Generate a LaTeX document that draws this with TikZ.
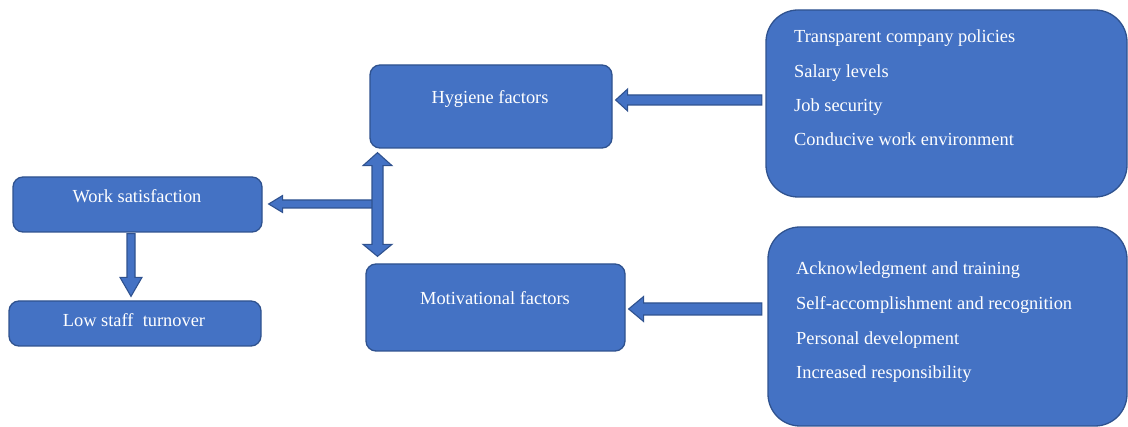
\documentclass[tikz,border=0pt]{standalone}
\usepackage{fontspec}
\setmainfont{Liberation Serif}
\usetikzlibrary{calc}
\definecolor{boxfill}{HTML}{4472C4}
\definecolor{boxline}{HTML}{2F528F}
\begin{document}
\begin{tikzpicture}[x=1pt,y=-1pt,
 box/.style={draw=boxline, fill=boxfill, line width=1.3pt, rounded corners=10pt, inner sep=0pt},
 bigbox/.style={box, rounded corners=32pt},
 lbl/.style={text=white, font=\fontsize{18.4}{22}\selectfont, anchor=base, inner sep=0pt},
 item/.style={lbl, anchor=base west},
 barrow/.style={draw=boxline, fill=boxfill, line width=1.1pt, line join=miter}]
\useasboundingbox (0,0) rectangle (1128,427);
% boxes
\node[box, minimum width=249pt, minimum height=55pt] (ws) at (137.5,204.5) {};
\node[box, minimum width=252pt, minimum height=45pt] (low) at (135,323.5) {};
\node[box, minimum width=242pt, minimum height=83pt] (hyg) at (491,106.5) {};
\node[box, minimum width=259pt, minimum height=87pt] (mot) at (495.5,307.5) {};
\node[bigbox, minimum width=361pt, minimum height=187pt] (tr) at (946.5,103.5) {};
\node[bigbox, minimum width=359pt, minimum height=199pt] (br) at (947.5,326.5) {};
\coordinate (junc) at (377.5,204);
% arrows
\draw[barrow] let \p1=($(hyg.east)+(3,-6.5)$), \p2=(tr.west) in
 (\p1) -- (\x1+12pt,\y1+11pt) -- (\x1+12pt,\y1+5pt) -- (\x2-3.5pt,\y1+5pt)
 -- (\x2-3.5pt,\y1-5pt) -- (\x1+12pt,\y1-5pt) -- (\x1+12pt,\y1-11pt) -- cycle;
\draw[barrow] let \p1=($(mot.east)+(3,1.5)$), \p2=(br.west) in
 (\p1) -- (\x1+15pt,\y1+12.5pt) -- (\x1+15pt,\y1+6pt) -- (\x2-5.5pt,\y1+6pt)
 -- (\x2-5.5pt,\y1-6pt) -- (\x1+15pt,\y1-6pt) -- (\x1+15pt,\y1-12.5pt) -- cycle;
\draw[barrow] let \p1=($(ws.east)+(6,-0.5)$), \p2=(junc) in
 (\p1) -- (\x1+14pt,\y1+8.5pt) -- (\x1+14pt,\y1+4pt) -- (\x2,\y1+4pt)
 -- (\x2,\y1-4pt) -- (\x1+14pt,\y1-4pt) -- (\x1+14pt,\y1-8.5pt) -- cycle;
\draw[barrow] let \p1=($(hyg.south)+(0,4)$), \p2=($(mot.north)+(0,-7)$), \p3=(junc) in
 (\x3,\y1) -- (\x3+14.5pt,\y1-13pt) -- (\x3+5.5pt,\y1-13pt) -- (\x3+5.5pt,\y2+12pt)
 -- (\x3+14.5pt,\y2+12pt) -- (\x3,\y2) -- (\x3-14.5pt,\y2+12pt) -- (\x3-5.5pt,\y2+12pt)
 -- (\x3-5.5pt,\y1-13pt) -- (\x3-14.5pt,\y1-13pt) -- cycle;
\draw[barrow] let \p1=($(ws.south)+(-6.5,1)$), \p2=($(low.north)+(0,-4)$) in
 (\x1-4pt,\y1) -- (\x1+4pt,\y1) -- (\x1+4pt,\y2+19pt) -- (\x1+11pt,\y2+19pt)
 -- (\x1,\y2) -- (\x1-11pt,\y2+19pt) -- (\x1-4pt,\y2+19pt) -- cycle;
% texts
\node[lbl] (wst) at (137,202.7) {Work satisfaction};
\node[lbl] (lowt) at (134,326.7) {Low staff\ \ turnover};
\node[lbl] (hygt) at (490,103.3) {Hygiene factors};
\node[lbl] (mott) at (495,305) {Motivational factors};
\node[item] (t1) at (794,43) {Transparent company policies};
\node[item] (t2) at (794,77.3) {Salary levels};
\node[item] (t3) at (794,111.6) {Job security};
\node[item] (t4) at (794,146) {Conducive work environment};
\node[item] (b1) at (796,275) {Acknowledgment and training};
\node[item] (b2) at (796,310) {Self-accomplishment and recognition};
\node[item] (b3) at (796,345) {Personal development};
\node[item] (b4) at (796,379) {Increased responsibility};
\end{tikzpicture}
\end{document}
